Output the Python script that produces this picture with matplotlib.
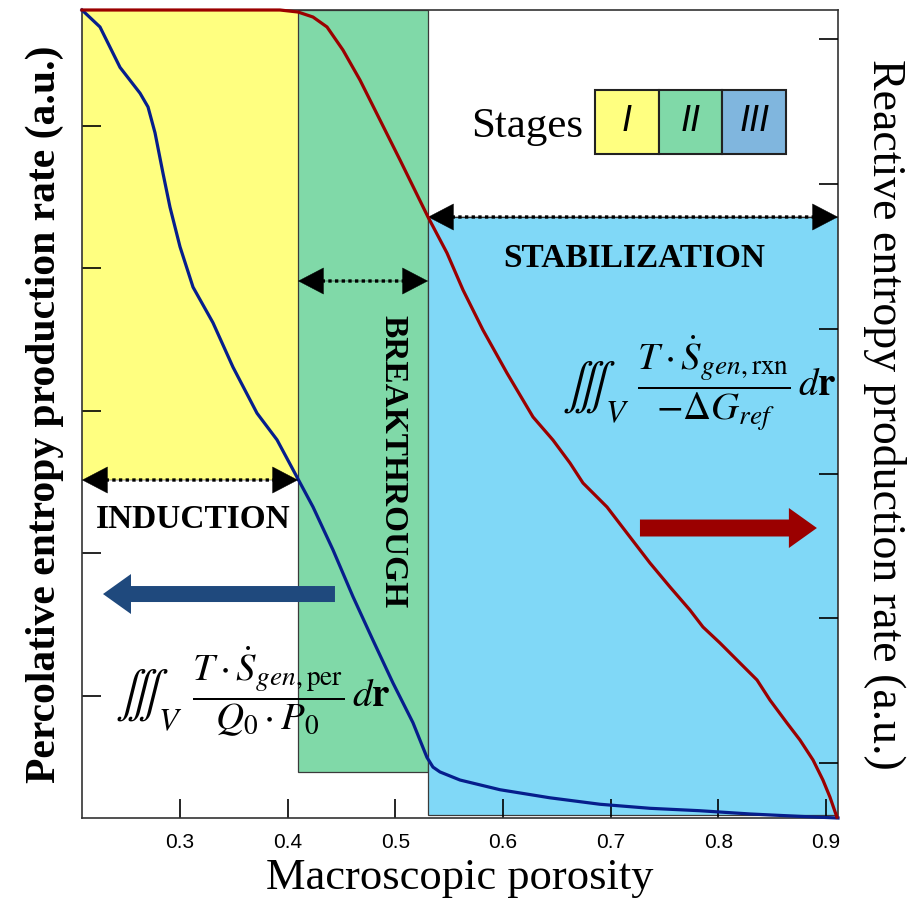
import matplotlib
matplotlib.use('Agg')
import matplotlib.pyplot as plt
from matplotlib.patches import Rectangle

plt.rcParams['mathtext.fontset'] = 'stix'
plt.rcParams['font.family'] = ['Liberation Serif', 'DejaVu Serif']

# ---------------- data ----------------
porosity_per = [0.209, 0.2257, 0.2443, 0.2629, 0.2703, 0.2768, 0.2842, 0.2907, 0.300,
                0.3121, 0.3306, 0.3492, 0.3715, 0.3901, 0.4086, 0.4235, 0.442, 0.4606,
                0.4792, 0.4978, 0.5163, 0.5293, 0.5349, 0.5414, 0.56, 0.5971, 0.6435,
                0.690, 0.7364, 0.7828, 0.8292, 0.8757, 0.911]
percolative = [1.0, 0.979, 0.929, 0.897, 0.880, 0.848, 0.798, 0.756, 0.707,
               0.657, 0.613, 0.558, 0.501, 0.468, 0.422, 0.385, 0.332, 0.274,
               0.220, 0.167, 0.118, 0.075, 0.063, 0.057, 0.047, 0.035, 0.025,
               0.017, 0.012, 0.009, 0.005, 0.002, 0.0]

porosity_rxn = [0.209, 0.3186, 0.3928, 0.4096, 0.4235, 0.4365, 0.4513, 0.4671, 0.4857,
                0.5043, 0.5303, 0.5479, 0.5628, 0.5813, 0.6036, 0.6278, 0.6463, 0.6621,
                0.6742, 0.6965, 0.7150, 0.7364, 0.7550, 0.7735, 0.7856, 0.8014, 0.8200,
                0.8358, 0.8478, 0.8636, 0.8757, 0.8878, 0.8970, 0.9035, 0.9100]
reactive = [1.0, 1.0, 1.0, 0.9975, 0.9913, 0.979, 0.9505, 0.9134, 0.8639,
            0.8144, 0.7438, 0.6993, 0.6535, 0.604, 0.5507, 0.4963, 0.4678, 0.4394,
            0.4146, 0.3849, 0.3527, 0.3156, 0.2859, 0.2574, 0.2364, 0.2166, 0.1918,
            0.1708, 0.146, 0.1176, 0.0965, 0.0718, 0.047, 0.026, 0.001]

stage_names = ['INDUCTION', 'BREAKTHROUGH', 'STABILIZATION']
stage_numerals = ['I', 'II', 'III']
stage_bounds = [0.209, 0.4096, 0.5303, 0.911]
stage_tops = [1.0, 1.0, 0.7438]
stage_bottoms = [0.4183, 0.0569, 0.0037]
stage_arrow_y = [0.4183, 0.6646, 0.7438]
stage_colors = ['#FFFF80', '#80D9A8', '#80D8F7']
legend_colors = ['#FFFF80', '#80D9A8', '#80B6DE']

x_ticks = [0.3, 0.4, 0.5, 0.6, 0.7, 0.8, 0.9]
x_tick_labels = ['0.3', '0.4', '0.5', '0.6', '0.7', '0.8', '0.9']
left_ticks = [0.151, 0.3274, 0.5037, 0.6801, 0.8564]
right_ticks = [0.0681, 0.2475, 0.4257, 0.6052, 0.7847, 0.9641]

# ---------------- figure ----------------
fig = plt.figure(figsize=(9.2, 9.05), dpi=100)
ax = fig.add_axes([82/920, 87/905, 756/920, 808/905])
ax.set_xlim(0.209, 0.911)
ax.set_ylim(0, 1)

# stage regions
for i in range(3):
    ec = 'none' if i == 0 else '#3a3a3a'
    ax.add_patch(Rectangle((stage_bounds[i], stage_bottoms[i]),
                           stage_bounds[i+1] - stage_bounds[i],
                           stage_tops[i] - stage_bottoms[i],
                           facecolor=stage_colors[i], edgecolor=ec, lw=0.9, zorder=1))

# percolative curve
ax.plot(porosity_per, percolative, color='#061E8C', lw=2.3, zorder=4,
        solid_joinstyle='round', clip_on=False)

# dotted double arrows
def dbl_arrow(x0, x1, y):
    ax.annotate('', xy=(x1, y), xytext=(x0, y),
                arrowprops=dict(arrowstyle='<|-|>,head_length=0.9,head_width=0.47',
                                mutation_scale=20, lw=0.3, color='black',
                                shrinkA=0, shrinkB=0),
                annotation_clip=False, zorder=6)
    ax.annotate('', xy=(x1, y), xytext=(x0, y),
                arrowprops=dict(arrowstyle='-', lw=2.4, ls=(0, (1.0, 1.0)),
                                color='black', shrinkA=17, shrinkB=17,
                                capstyle='butt'),
                annotation_clip=False, zorder=6)

for i in range(3):
    dbl_arrow(stage_bounds[i], stage_bounds[i+1], stage_arrow_y[i])

# stage labels
ax.text(0.147, 0.369, stage_names[0], transform=ax.transAxes, ha='center', va='center',
        fontsize=24, fontweight='bold', zorder=7)
ax.text(0.411, 0.4406, stage_names[1], transform=ax.transAxes, ha='center', va='center',
        fontsize=24, fontweight='bold', rotation=-90, zorder=7)
ax.text(0.730, 0.693, stage_names[2], transform=ax.transAxes, ha='center', va='center',
        fontsize=24, fontweight='bold', zorder=7)

# big direction arrows
ax.arrow(0.4439, 0.2772, 0.2285 - 0.4439, 0, width=0.0198, head_width=0.0495,
         head_length=0.026, length_includes_head=True, color='#1F497D', lw=0, zorder=5)
ax.arrow(0.7271, 0.3589, 0.8914 - 0.7271, 0, width=0.021, head_width=0.0495,
         head_length=0.026, length_includes_head=True, color='#9B0000', lw=0, zorder=5)

# formulas (large triple integral with subscript, then fraction)
def formula(x_int, x_frac, y_bar, frac_tex):
    ax.text(x_int, y_bar - 0.006, r'$\iiint_{V}$', transform=ax.transAxes, ha='left',
            va='center', fontsize=33, zorder=7)
    ax.text(x_frac, y_bar + 0.004, frac_tex, transform=ax.transAxes, ha='left',
            va='center', fontsize=28, zorder=7)

formula(0.044, 0.1455, 0.152,
        r'$\dfrac{T\cdot\dot{S}_{gen,\mathrm{per}}}{Q_0\cdot P_0}\,d\mathbf{r}$')
formula(0.635, 0.734, 0.533,
        r'$\dfrac{T\cdot\dot{S}_{gen,\mathrm{rxn}}}{-\Delta G_{ref}}\,d\mathbf{r}$')

# stages legend
ax.text(0.6627, 0.843, 'Stages', transform=ax.transAxes, ha='right', va='baseline',
        fontsize=31, zorder=7)
cell_w = 0.0843
cell_h = 0.0792
for i in range(3):
    x0 = 0.6786 + i * cell_w
    ax.add_patch(Rectangle((x0, 0.8218), cell_w, cell_h, transform=ax.transAxes,
                           facecolor=legend_colors[i], edgecolor='#222222', lw=1.5, zorder=7))
    ax.text(x0 + cell_w / 2, 0.8218 + cell_h / 2, stage_numerals[i],
            transform=ax.transAxes, ha='center', va='center', fontsize=26,
            style='italic', family=['Liberation Sans', 'DejaVu Sans'], zorder=8)

# axes styling
ax.set_xticks(x_ticks)
ax.set_xticklabels(x_tick_labels, family=['Liberation Sans', 'DejaVu Sans'], fontsize=15)
ax.set_yticks(left_ticks)
ax.tick_params(axis='x', direction='in', length=14, width=1.2, pad=11, top=False)
ax.tick_params(axis='y', direction='in', length=14, width=1.2, labelleft=False)
for s in ax.spines.values():
    s.set_linewidth(1.2)
    s.set_color('#333333')

ax.set_xlabel('Macroscopic porosity', fontsize=32, va='center')
ax.xaxis.set_label_coords(0.5, -0.074)
ax.set_ylabel('Percolative entropy production rate (a.u.)', fontsize=30,
              fontweight='bold', va='center')
ax.yaxis.set_label_coords(-0.049, 0.5)

# right axis: reactive
ax2 = ax.twinx()
ax2.set_ylim(0, 1)
ax2.plot(porosity_rxn, reactive, color='#9B0000', lw=2.3, zorder=4,
         solid_joinstyle='round', clip_on=False)
ax2.set_yticks(right_ticks)
ax2.tick_params(axis='y', direction='in', length=14, width=1.2, labelright=False)
ax2.set_ylabel('Reactive entropy production rate (a.u.)', fontsize=33,
               rotation=270, va='center')
ax2.yaxis.set_label_coords(1.062, 0.5)
for s in ax2.spines.values():
    s.set_visible(False)

fig.savefig('out.png', dpi=100)
